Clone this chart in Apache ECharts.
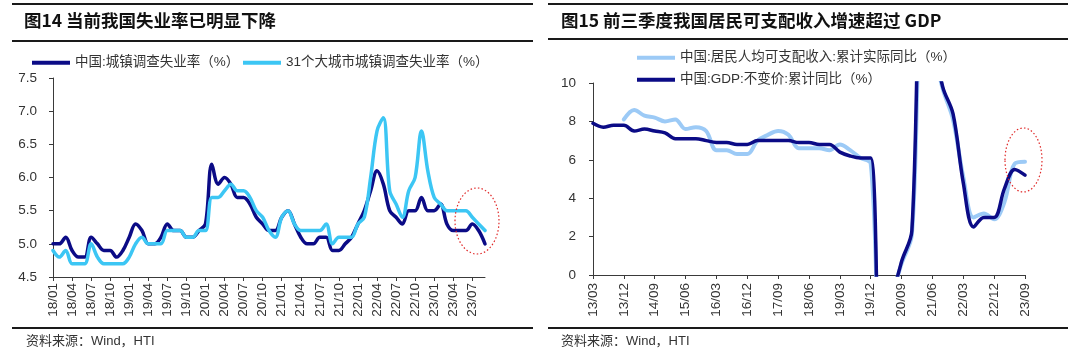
<!DOCTYPE html>
<html><head><meta charset="utf-8">
<script src="https://cdn.jsdelivr.net/npm/echarts@6/dist/echarts.min.js"></script>
<style>html,body{margin:0;padding:0;background:#fff}#c{width:1080px;height:357px}</style>
</head><body><div id="c"></div>
<script>
// ---- Left chart data (monthly) ----
const months = [
 '18/01','18/02','18/03','18/04','18/05','18/06','18/07','18/08','18/09','18/10','18/11','18/12',
 '19/01','19/02','19/03','19/04','19/05','19/06','19/07','19/08','19/09','19/10','19/11','19/12',
 '20/01','20/02','20/03','20/04','20/05','20/06','20/07','20/08','20/09','20/10','20/11','20/12',
 '21/01','21/02','21/03','21/04','21/05','21/06','21/07','21/08','21/09','21/10','21/11','21/12',
 '22/01','22/02','22/03','22/04','22/05','22/06','22/07','22/08','22/09','22/10','22/11','22/12',
 '23/01','23/02','23/03','23/04','23/05','23/06','23/07','23/08','23/09'];
const urbanRate = [
 5.0,5.0,5.1,4.9,4.8,4.8,5.1,5.0,4.9,4.9,4.8,4.9,
 5.1,5.3,5.2,5.0,5.0,5.1,5.3,5.2,5.2,5.1,5.1,5.2,
 5.3,6.2,5.9,6.0,5.9,5.7,5.7,5.6,5.4,5.3,5.2,5.2,
 5.4,5.5,5.3,5.1,5.0,5.0,5.1,5.1,4.9,4.9,5.0,5.1,
 5.3,5.5,5.8,6.1,5.9,5.5,5.4,5.3,5.5,5.5,5.7,5.5,
 5.5,5.6,5.3,5.2,5.2,5.2,5.3,5.2,5.0];
const bigCityRate = [
 4.9,4.8,4.9,4.7,4.7,4.7,5.0,4.8,4.7,4.7,4.7,4.7,
 4.8,5.0,5.1,5.0,5.0,5.0,5.2,5.2,5.2,5.1,5.1,5.2,
 5.2,5.7,5.7,5.8,5.9,5.8,5.8,5.7,5.5,5.4,5.2,5.1,
 5.4,5.5,5.3,5.2,5.2,5.2,5.2,5.3,5.0,5.1,5.1,5.1,
 5.3,5.4,6.0,6.7,6.9,5.8,5.6,5.4,5.8,6.0,6.7,6.1,
 5.7,5.6,5.5,5.5,5.5,5.5,5.4,5.3,5.2];
const leftNames = ['中国:城镇调查失业率（%）','31个大城市城镇调查失业率（%）'];

// ---- Right chart data (quarterly) ----
const quarters = [
 '13/03','13/06','13/09','13/12','14/03','14/06','14/09','14/12',
 '15/03','15/06','15/09','15/12','16/03','16/06','16/09','16/12',
 '17/03','17/06','17/09','17/12','18/03','18/06','18/09','18/12',
 '19/03','19/06','19/09','19/12','20/03','20/06','20/09','20/12',
 '21/03','21/06','21/09','21/12','22/03','22/06','22/09','22/12',
 '23/03','23/06','23/09'];
const incomeGrowth = [
 null,null,null,8.1, 8.6,8.3,8.2,8.0,
 8.1,7.6,7.7,7.5, 6.5,6.5,6.3,6.3,
 7.0,7.3,7.5,7.3, 6.6,6.6,6.6,6.5,
 6.8,6.5,6.1,5.8, -3.9,-1.3,0.6,2.1,
 13.7,12.0,9.7,8.1, 5.1,3.0,3.2,2.9,
 3.8,5.8,5.9];
const gdpGrowth = [
 7.9,7.7,7.8,7.8, 7.5,7.6,7.5,7.4,
 7.1,7.1,7.1,7.0, 6.9,6.9,6.8,6.8,
 7.0,7.0,7.0,7.0, 6.9,6.9,6.8,6.8,
 6.4,6.2,6.1,6.1, -6.8,-1.6,0.7,2.3,
 18.3,12.7,9.8,8.4, 4.8,2.5,3.0,3.0,
 4.5,5.5,5.2];
const rightNames = ['中国:居民人均可支配收入:累计实际同比（%）','中国:GDP:不变价:累计同比（%）'];

const titles = ['图14 当前我国失业率已明显下降','图15 前三季度我国居民可支配收入增速超过 GDP'];
const sourceText = '资料来源：Wind，HTI';

const FONT = '"Liberation Sans", Arial, "Noto Sans CJK SC", sans-serif';
const C_DARK = '#0b0b86';
const C_CYAN = '#3cc6f4';
const C_PALE = '#9ccaf6';
const C_AXIS = '#3a3a3a';
const C_TEXT = '#333333';

const chart = echarts.init(document.getElementById('c'), null, {renderer:'canvas'});

function xAxisCfg(gridIndex, data, margin) {
  return {
    type:'category', gridIndex, data, boundaryGap:false,
    axisLine:{lineStyle:{color:C_AXIS, width:1}},
    axisTick:{show:true, interval:2, length:4, lineStyle:{color:C_AXIS}},
    axisLabel:{interval:2, rotate:90, margin, fontSize:13.5, color:C_TEXT, fontFamily:FONT},
    splitLine:{show:false}
  };
}
function yAxisCfg(gridIndex, min, max, interval, margin, fmt) {
  return {
    type:'value', gridIndex, min, max, interval,
    axisLine:{show:true, lineStyle:{color:C_AXIS, width:1}},
    axisTick:{show:true, length:4, lineStyle:{color:C_AXIS}},
    axisLabel:{margin, fontSize:13.5, color:C_TEXT, fontFamily:FONT, formatter:fmt},
    splitLine:{show:false}
  };
}
function legendCfg(name, left, top) {
  return {
    data:[name], left, top, padding:0, icon:'rect', itemWidth:38, itemHeight:4, itemGap:0,
    textStyle:{fontSize:13.5, color:C_TEXT, fontFamily:FONT}, selectedMode:false
  };
}
function lineSeries(name, xi, data, color, width) {
  return {
    name, type:'line', xAxisIndex:xi, yAxisIndex:xi, data, color,
    symbol:'none', smooth:0.35, connectNulls:false, clip:true,
    lineStyle:{color, width, cap:'round', join:'round'}
  };
}

const rules = [
  [12,4,533,4],[12,41,533,41],[12,328,533,328],
  [548,4,1068,4],[548,39,1068,39],[548,328,1068,328]
];

const option = {
  animation:false,
  backgroundColor:'#ffffff',
  grid:[
    {left:53, top:78, width:432, height:199},
    {left:593, top:83, width:432, height:192}
  ],
  xAxis:[ xAxisCfg(0, months, 6), xAxisCfg(1, quarters, 8) ],
  yAxis:[
    yAxisCfg(0, 4.5, 7.5, 0.5, 16, v => v.toFixed(1)),
    yAxisCfg(1, 0, 10, 2, 17, v => String(v))
  ],
  legend:[
    legendCfg(leftNames[0], 32, 56),
    legendCfg(leftNames[1], 243, 56),
    legendCfg(rightNames[0], 637, 51),
    legendCfg(rightNames[1], 637, 73)
  ],
  series:[
    lineSeries(leftNames[0], 0, urbanRate, C_DARK, 3.5),
    lineSeries(leftNames[1], 0, bigCityRate, C_CYAN, 3.5),
    lineSeries(rightNames[0], 1, incomeGrowth, C_PALE, 4),
    lineSeries(rightNames[1], 1, gdpGrowth, C_DARK, 3.5)
  ],
  graphic:[
    ...rules.map(r => ({type:'line', silent:true, shape:{x1:r[0],y1:r[1],x2:r[2],y2:r[3]}, style:{stroke:'#1a1a1a', lineWidth:2}})),
    {type:'text', left:24, top:12, silent:true, style:{text:titles[0], font:'bold 17.5px "Noto Sans CJK SC", sans-serif', fill:'#111'}},
    {type:'text', left:561, top:12, silent:true, style:{text:titles[1], font:'bold 17.5px "Noto Sans CJK SC", sans-serif', fill:'#111'}},
    {type:'text', left:26, top:335, silent:true, style:{text:sourceText, font:'13px "Liberation Sans", "Noto Sans CJK SC", sans-serif', fill:C_TEXT}},
    {type:'text', left:561, top:335, silent:true, style:{text:sourceText, font:'13px "Liberation Sans", "Noto Sans CJK SC", sans-serif', fill:C_TEXT}},
    {type:'ellipse', silent:true, z:100, shape:{cx:477, cy:221, rx:22, ry:33}, style:{fill:'none', stroke:'#e02828', lineWidth:1.2, lineDash:[1.5,2.2]}},
    {type:'ellipse', silent:true, z:100, shape:{cx:1023.5, cy:160, rx:18.5, ry:32}, style:{fill:'none', stroke:'#e02828', lineWidth:1.2, lineDash:[1.5,2.2]}}
  ]
};
chart.setOption(option);
</script>
</body></html>
